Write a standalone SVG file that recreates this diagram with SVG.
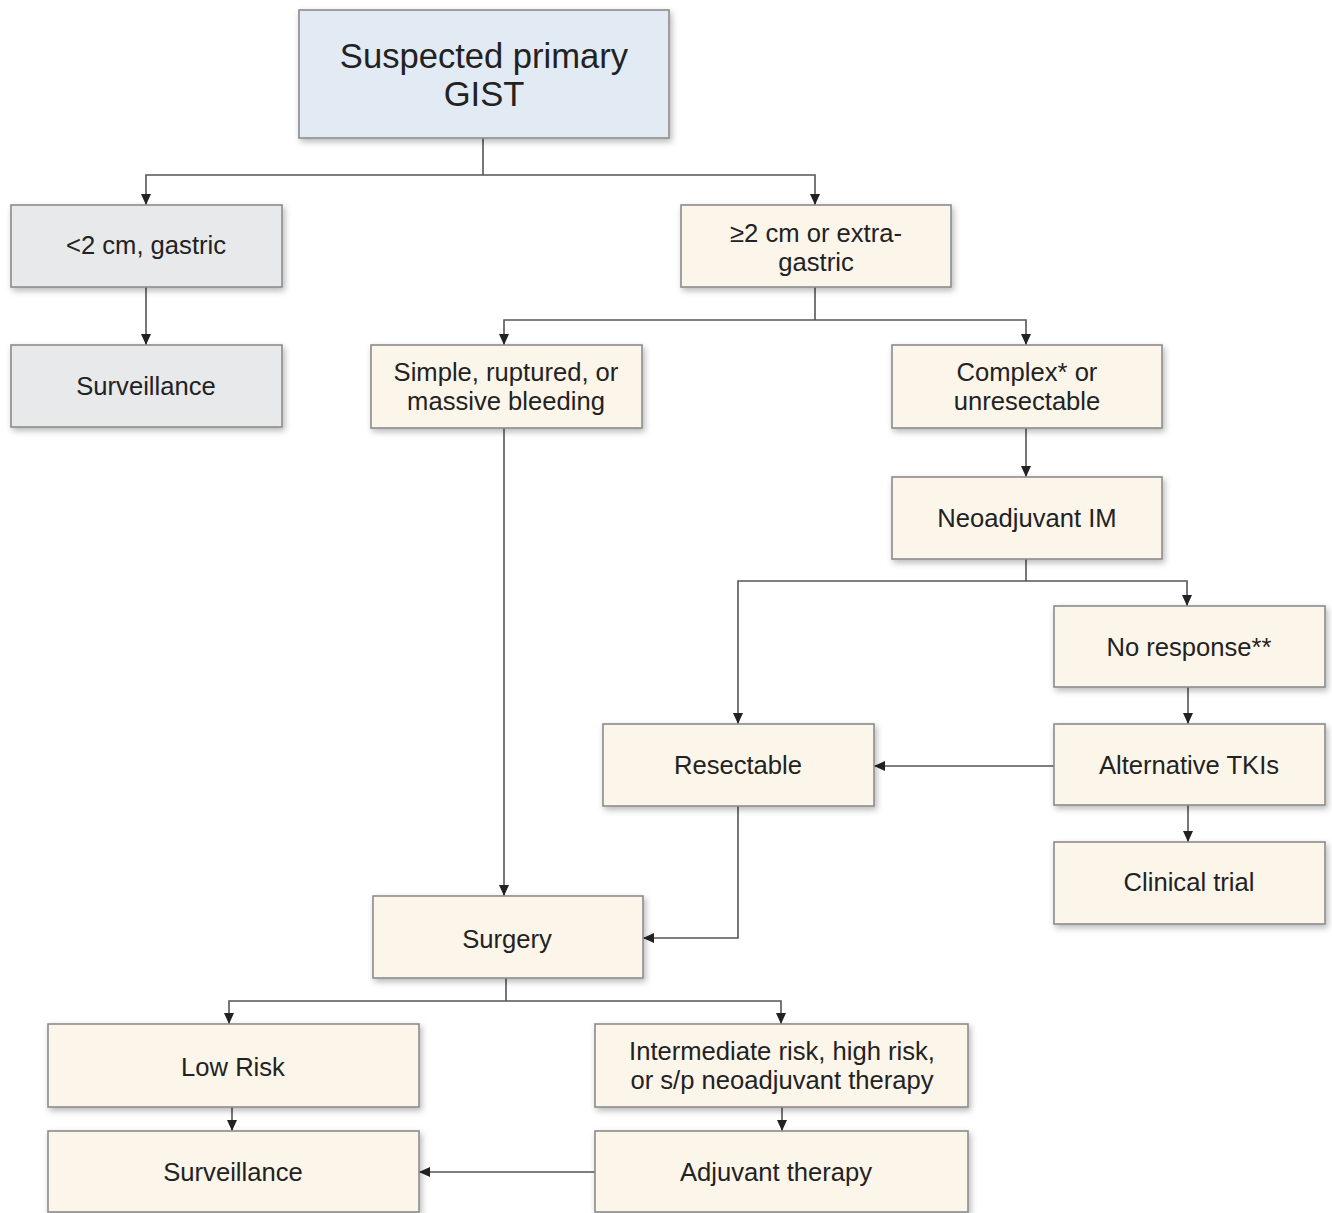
<svg xmlns="http://www.w3.org/2000/svg" width="1332" height="1213" viewBox="0 0 1332 1213">
<style>
.box{stroke:#8c8c8c;stroke-width:1.6;filter:url(#sh)}
.cream{fill:#fcf5ea}
.gray{fill:#e7e9eb}
.blue{fill:#e2eaf4}
.t{font-family:"Liberation Sans",Arial,sans-serif;font-size:25.6px;fill:#222;text-anchor:middle;dominant-baseline:central}
.title{font-size:34.6px}
.c{fill:none;stroke:#555;stroke-width:1.6}
.a{marker-end:url(#ah)}
</style>
<defs>
<filter id="sh" x="-10%" y="-10%" width="125%" height="135%">
<feDropShadow dx="2" dy="3" stdDeviation="3" flood-color="#000" flood-opacity="0.28"/>
</filter>
<marker id="ah" markerUnits="userSpaceOnUse" markerWidth="13" markerHeight="13" viewBox="0 0 13 13" refX="12" refY="6.5" orient="auto">
<path d="M1,1.5 L12,6.5 L1,11.5 Z" fill="#222"/>
</marker>
</defs>
<rect width="1332" height="1213" fill="#fff"/>
<g id="connectors">
<path class="c" d="M483,138 V175"/>
<path class="c a" d="M483,175 H146 V205"/>
<path class="c a" d="M483,175 H815 V205"/>
<path class="c a" d="M146,287 V345"/>
<path class="c" d="M815,287 V320"/>
<path class="c a" d="M815,320 H504 V345"/>
<path class="c a" d="M815,320 H1026 V345"/>
<path class="c a" d="M1026,428 V477"/>
<path class="c" d="M1026,559 V581"/>
<path class="c a" d="M1026,581 H738 V724"/>
<path class="c a" d="M1026,581 H1187 V606"/>
<path class="c a" d="M1188,687 V724"/>
<path class="c a" d="M1054,766 H874"/>
<path class="c a" d="M1188,805 V842"/>
<path class="c a" d="M504,428 V896"/>
<path class="c a" d="M738,806 V938 H643"/>
<path class="c" d="M506,978 V1001"/>
<path class="c a" d="M506,1001 H229 V1024"/>
<path class="c a" d="M506,1001 H781 V1024"/>
<path class="c a" d="M232,1107 V1131"/>
<path class="c a" d="M782,1107 V1131"/>
<path class="c a" d="M595,1172 H419"/>
</g>
<g id="n-suspected">
<rect class="box blue" x="299" y="10" width="370" height="128"/>
<text class="t title" x="484" y="56">Suspected primary</text>
<text class="t title" x="484" y="94">GIST</text>
</g>
<g id="n-lt2">
<rect class="box gray" x="11" y="205" width="271" height="82"/>
<text class="t" x="146" y="245">&lt;2 cm, gastric</text>
</g>
<g id="n-surv1">
<rect class="box gray" x="11" y="345" width="271" height="82"/>
<text class="t" x="146" y="386">Surveillance</text>
</g>
<g id="n-ge2">
<rect class="box cream" x="681" y="205" width="270" height="82"/>
<text class="t" x="816" y="233">≥2 cm or extra-</text>
<text class="t" x="816" y="262">gastric</text>
</g>
<g id="n-simple">
<rect class="box cream" x="371" y="345" width="271" height="83"/>
<text class="t" x="506" y="372">Simple, ruptured, or</text>
<text class="t" x="506" y="401">massive bleeding</text>
</g>
<g id="n-complex">
<rect class="box cream" x="892" y="345" width="270" height="83"/>
<text class="t" x="1027" y="372">Complex* or</text>
<text class="t" x="1027" y="401">unresectable</text>
</g>
<g id="n-neo">
<rect class="box cream" x="892" y="477" width="270" height="82"/>
<text class="t" x="1027" y="518">Neoadjuvant IM</text>
</g>
<g id="n-noresp">
<rect class="box cream" x="1054" y="606" width="271" height="81"/>
<text class="t" x="1189" y="647">No response**</text>
</g>
<g id="n-resect">
<rect class="box cream" x="603" y="724" width="271" height="82"/>
<text class="t" x="738" y="765">Resectable</text>
</g>
<g id="n-alt">
<rect class="box cream" x="1054" y="724" width="271" height="81"/>
<text class="t" x="1189" y="765">Alternative TKIs</text>
</g>
<g id="n-trial">
<rect class="box cream" x="1054" y="842" width="271" height="82"/>
<text class="t" x="1189" y="882">Clinical trial</text>
</g>
<g id="n-surgery">
<rect class="box cream" x="373" y="896" width="270" height="82"/>
<text class="t" x="507" y="939">Surgery</text>
</g>
<g id="n-low">
<rect class="box cream" x="48" y="1024" width="371" height="83"/>
<text class="t" x="233" y="1067">Low Risk</text>
</g>
<g id="n-inter">
<rect class="box cream" x="595" y="1024" width="373" height="83"/>
<text class="t" x="782" y="1051">Intermediate risk, high risk,</text>
<text class="t" x="782" y="1080">or s/p neoadjuvant therapy</text>
</g>
<g id="n-surv2">
<rect class="box cream" x="48" y="1131" width="371" height="81"/>
<text class="t" x="233" y="1172">Surveillance</text>
</g>
<g id="n-adj">
<rect class="box cream" x="595" y="1131" width="373" height="81"/>
<text class="t" x="776" y="1172">Adjuvant therapy</text>
</g>
</svg>
